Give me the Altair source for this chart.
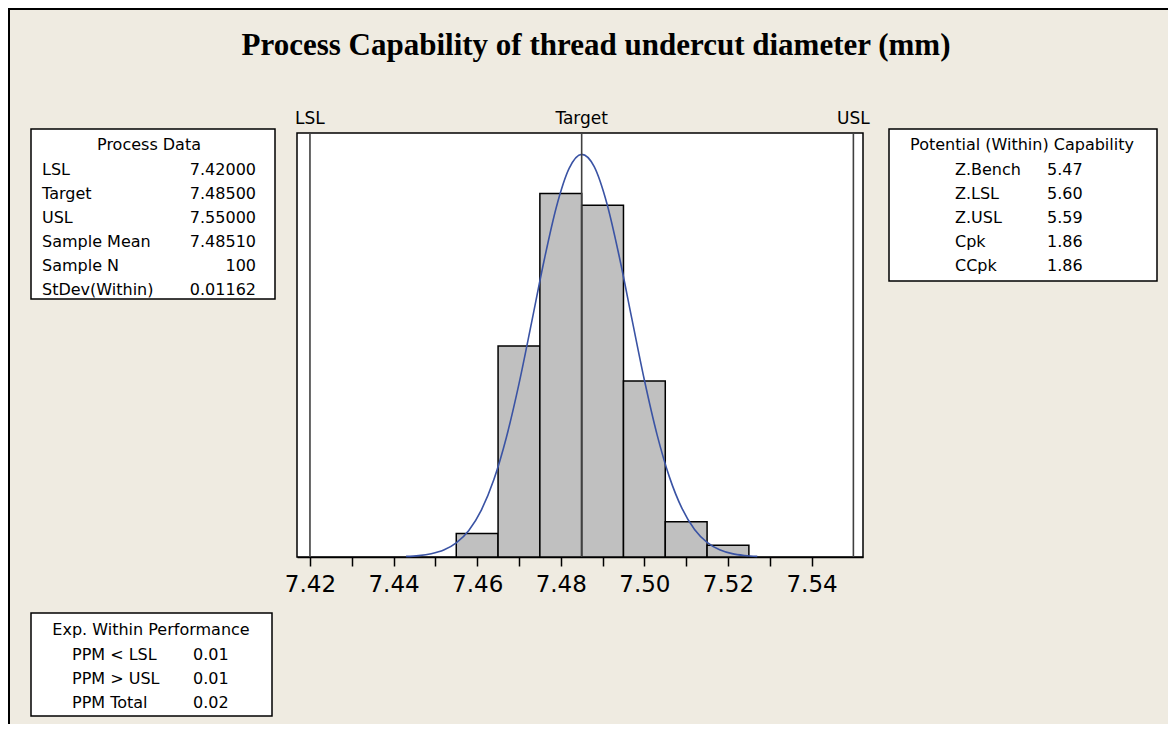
import altair as alt
import pandas as pd

# ---------------- data ----------------
title_text = "Process Capability of thread undercut diameter (mm)"

bin_start = [7.455, 7.465, 7.475, 7.485, 7.495, 7.505, 7.515]
bin_end = [7.465, 7.475, 7.485, 7.495, 7.505, 7.515, 7.525]
counts = [2, 18, 31, 30, 15, 3, 1]

curve_x = [7.443, 7.446, 7.449, 7.452, 7.455, 7.458, 7.461, 7.464, 7.467, 7.470,
           7.473, 7.476, 7.479, 7.482, 7.485, 7.488, 7.491, 7.494, 7.497, 7.500,
           7.503, 7.506, 7.509, 7.512, 7.515, 7.518, 7.521, 7.524, 7.527]
curve_y = [0.05, 0.12, 0.28, 0.59, 1.20, 2.26, 4.00, 6.60, 10.21, 14.76,
           19.96, 25.26, 29.91, 33.13, 34.33, 33.28, 30.18, 25.60, 20.32, 15.09,
           10.48, 6.81, 4.14, 2.35, 1.25, 0.62, 0.29, 0.13, 0.05]

spec_names = ["LSL", "Target", "USL"]
spec_values = [7.42, 7.485, 7.55]

tick_values = [7.42, 7.43, 7.44, 7.45, 7.46, 7.47, 7.48, 7.49, 7.50, 7.51, 7.52, 7.53, 7.54]
x_domain = [7.4169, 7.5523]
y_domain = [0, 36.15]

process_title = "Process Data"
process_labels = ["LSL", "Target", "USL", "Sample Mean", "Sample N", "StDev(Within)"]
process_values = ["7.42000", "7.48500", "7.55000", "7.48510", "100", "0.01162"]

potential_title = "Potential (Within) Capability"
potential_labels = ["Z.Bench", "Z.LSL", "Z.USL", "Cpk", "CCpk"]
potential_values = ["5.47", "5.60", "5.59", "1.86", "1.86"]

exp_title = "Exp. Within Performance"
exp_labels = ["PPM < LSL", "PPM > USL", "PPM Total"]
exp_values = ["0.01", "0.01", "0.02"]

# ---------------- layout (page pixels) ----------------
PLOT_L, PLOT_T, PLOT_R, PLOT_B = 297, 133, 863, 557
W = PLOT_R - PLOT_L
H = PLOT_B - PLOT_T
PAD_L = PLOT_L - 8
PAD_T = PLOT_T - 8
PAD_R = 1160 - PAD_L - W
PAD_B = 716 - PAD_T - H


def px(x):
    return x - PLOT_L


def py(y):
    return y - PLOT_T


FONT = "DejaVu Sans"
BG = "#EFEBE1"
dummy = pd.DataFrame({"a": [0]})

x_scale = alt.Scale(domain=x_domain, nice=False, zero=False)
y_scale = alt.Scale(domain=y_domain, nice=False)

x_axis = alt.Axis(
    values=tick_values,
    labelExpr="round(datum.value*100) % 2 == 0 ? format(datum.value, '.2f') : ''",
    labelFont=FONT, labelFontSize=23, labelColor="black", labelPadding=7,
    labelOverlap=False, tickColor="black", tickSize=9, tickWidth=1.5,
    domainColor="black", domainWidth=1.5, grid=False, title=None,
)

hist_df = pd.DataFrame({"start": bin_start, "end": bin_end, "count": counts})
bars = alt.Chart(hist_df).mark_rect(fill="#C0C0C0", stroke="black", strokeWidth=1.5).encode(
    x=alt.X("start:Q", scale=x_scale, axis=x_axis),
    x2="end:Q",
    y=alt.Y("count:Q", scale=y_scale, axis=None),
    y2=alt.datum(0),
)

curve_df = pd.DataFrame({"x": curve_x, "y": curve_y})
curve = alt.Chart(curve_df).mark_line(color="#3A53A4", strokeWidth=1.6, interpolate="monotone").encode(
    x=alt.X("x:Q", scale=x_scale),
    y=alt.Y("y:Q", scale=y_scale),
)

spec_df = pd.DataFrame({"name": spec_names, "value": spec_values})
spec_rules = alt.Chart(spec_df).mark_rule(color="#404040", strokeWidth=1.6).encode(
    x=alt.X("value:Q", scale=x_scale),
)
spec_text = alt.Chart(spec_df).mark_text(
    font=FONT, fontSize=17, color="black", baseline="alphabetic", align="center"
).encode(
    x=alt.X("value:Q", scale=x_scale),
    y=alt.value(py(124)),
    text="name:N",
)

layers = [bars, curve, spec_rules, spec_text]


def box(x1, y1, x2, y2):
    return alt.Chart(dummy).mark_rect(fill="white", stroke="black", strokeWidth=1.5).encode(
        x=alt.value(px(x1)), x2=alt.value(px(x2)),
        y=alt.value(py(y1)), y2=alt.value(py(y2)),
    )


def label(s, x, y, align="left", size=16, font=FONT, weight="normal", baseline="middle"):
    return alt.Chart(dummy).mark_text(
        font=font, fontSize=size, fontWeight=weight, color="black",
        align=align, baseline=baseline,
    ).encode(x=alt.value(px(x)), y=alt.value(py(y)), text=alt.value(s))


# outer frame lines (top and left)
layers.append(alt.Chart(dummy).mark_rule(color="black", strokeWidth=2).encode(
    x=alt.value(-PAD_L), x2=alt.value(W + PAD_R), y=alt.value(-PAD_T + 1)))
layers.append(alt.Chart(dummy).mark_rule(color="black", strokeWidth=2).encode(
    x=alt.value(-PAD_L + 1), y=alt.value(-PAD_T), y2=alt.value(H + PAD_B)))

# title
layers.append(label(title_text, 596, 55, align="center", size=31,
                    font="Liberation Serif", weight="bold", baseline="alphabetic"))

# Process Data box
layers.append(box(31, 129, 275, 299))
layers.append(label(process_title, 149, 145, align="center"))
for i, (l, v) in enumerate(zip(process_labels, process_values)):
    yy = 170 + 24 * i
    layers.append(label(l, 42, yy))
    layers.append(label(v, 256, yy, align="right"))

# Potential box
layers.append(box(889, 129, 1157, 281))
layers.append(label(potential_title, 1022, 145, align="center"))
for i, (l, v) in enumerate(zip(potential_labels, potential_values)):
    yy = 170 + 24 * i
    layers.append(label(l, 955, yy))
    layers.append(label(v, 1047, yy))

# Exp. Within Performance box
layers.append(box(31, 613, 272, 716))
layers.append(label(exp_title, 151, 630, align="center"))
for i, (l, v) in enumerate(zip(exp_labels, exp_values)):
    yy = 655 + 24 * i
    layers.append(label(l, 72, yy))
    layers.append(label(v, 193, yy))

chart = alt.layer(*layers).properties(
    width=W, height=H,
    autosize=alt.AutoSizeParams(type="none"),
    padding={"left": PAD_L, "top": PAD_T, "right": PAD_R, "bottom": PAD_B},
    background=BG,
).configure_view(fill="white", stroke="black", strokeWidth=1.5)

chart.save("out.html", embed_options={"renderer": "svg", "actions": False})
